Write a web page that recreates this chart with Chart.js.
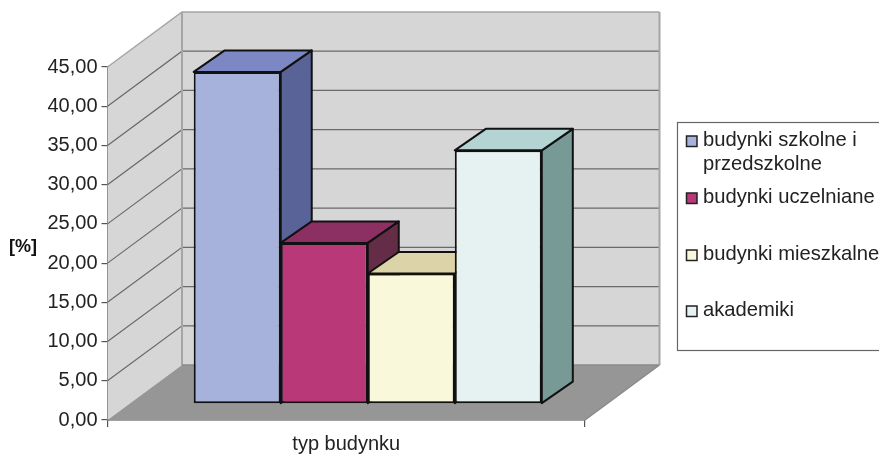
<!DOCTYPE html>
<html>
<head>
<meta charset="utf-8">
<style>
html, body { margin: 0; padding: 0; background: #fff; overflow: hidden; }
canvas { display: block; }
</style>
<script src="https://cdn.jsdelivr.net/npm/chart.js@4"></script>
</head>
<body>
<canvas id="myChart" width="879" height="454"></canvas>
<script>
const categories = ['typ budynku'];
const seriesNames = ['budynki szkolne i przedszkolne', 'budynki uczelniane', 'budynki mieszkalne', 'akademiki'];
const szkolne = [42.3];
const uczelniane = [20.5];
const mieszkalne = [16.6];
const akademiki = [32.3];
const frontColors = ['#a6b2dc', '#b83878', '#faf8da', '#e6f2f2'];
const topColors = ['#7c88c4', '#8c2f62', '#dcd4a8', '#b3d4d2'];
const sideColors = ['#5a6398', '#652c47', '#a8a486', '#789a96'];

const FONT = '"Liberation Sans", Arial, sans-serif';
const WALL_DX = 74.5, WALL_DY = -55;   // depth of the whole plot box
const BAR_DX = 31, BAR_DY = -21.5;     // depth of a bar
const SHIFT_X = 21.5, SHIFT_Y = -16.25; // bars stand in the middle of the floor

function poly(ctx, pts, fill, stroke, lw) {
    ctx.beginPath();
    pts.forEach((p, i) => i ? ctx.lineTo(p[0], p[1]) : ctx.moveTo(p[0], p[1]));
    ctx.closePath();
    if (fill) { ctx.fillStyle = fill; ctx.fill(); }
    if (stroke) { ctx.strokeStyle = stroke; ctx.lineWidth = lw; ctx.stroke(); }
}

const box3d = {
    id: 'box3d',
    beforeDatasetsDraw(chart) {
        const ctx = chart.ctx;
        const a = chart.chartArea;
        const y = chart.scales.y;
        const l = a.left, r = a.right, t = a.top, b = a.bottom;
        const bl = l + WALL_DX, br = r + WALL_DX, dy = WALL_DY;

        // walls and floor
        poly(ctx, [[l, b], [l, t], [bl, t + dy], [bl, b + dy]], '#d6d6d6', null);
        poly(ctx, [[bl, b + dy], [bl, t + dy], [br, t + dy], [br, b + dy]], '#d6d6d6', null);
        poly(ctx, [[l, b], [bl, b + dy], [br, b + dy], [r, b]], '#969696', null);

        // grid lines from the scale
        y.ticks.forEach(tick => {
            const py = y.getPixelForValue(tick.value);
            if (tick.value === 0) return;
            ctx.beginPath();
            ctx.moveTo(l, py);
            ctx.lineTo(bl, py + dy);
            ctx.lineTo(br, py + dy);
            ctx.strokeStyle = tick.value === 45 ? '#a5a5a5' : '#6a6a6a';
            ctx.lineWidth = tick.value === 45 ? 1.5 : 1.2;
            ctx.stroke();
        });
        ctx.strokeStyle = '#a5a5a5';
        ctx.lineWidth = 2;
        ctx.beginPath();
        ctx.moveTo(bl, t + dy); ctx.lineTo(bl, b + dy);
        ctx.moveTo(br, t + dy); ctx.lineTo(br, b + dy);
        ctx.stroke();
        ctx.lineWidth = 1.5;
        ctx.strokeStyle = '#8a8a8a';
        ctx.beginPath();
        ctx.moveTo(bl, b + dy); ctx.lineTo(br, b + dy);
        ctx.moveTo(br, b + dy); ctx.lineTo(r, b);
        ctx.stroke();

        // tops and sides of the bars, left to right
        ctx.save();
        ctx.translate(SHIFT_X, SHIFT_Y);
        ctx.lineJoin = 'round';
        chart.data.datasets.forEach((ds, i) => {
            const bar = chart.getDatasetMeta(i).data[0];
            const x0 = bar.x - bar.width / 2, x1 = bar.x + bar.width / 2;
            poly(ctx, [[x1, bar.y], [x1 + BAR_DX, bar.y + BAR_DY], [x1 + BAR_DX, bar.base + BAR_DY], [x1, bar.base]], sideColors[i], '#111', 2);
            poly(ctx, [[x0, bar.y], [x0 + BAR_DX, bar.y + BAR_DY], [x1 + BAR_DX, bar.y + BAR_DY], [x1, bar.y]], topColors[i], '#111', 2);
        });
        // front faces are drawn by the library in the same shifted place
    },
    afterDatasetsDraw(chart) {
        chart.ctx.restore();
    },
    afterDraw(chart) {
        const ctx = chart.ctx;
        ctx.save();

        // y axis title, horizontal
        ctx.fillStyle = '#111';
        ctx.font = 'bold 18px ' + FONT;
        ctx.textAlign = 'center';
        ctx.textBaseline = 'middle';
        ctx.fillText('[%]', 23, 247);

        // legend box runs off the right edge
        ctx.fillStyle = '#fff';
        ctx.strokeStyle = '#666';
        ctx.lineWidth = 1.2;
        ctx.fillRect(677.5, 122.5, 220, 228);
        ctx.strokeRect(677.5, 122.5, 220, 228);

        const rows = [
            { lines: ['budynki szkolne i', 'przedszkolne'], y: 141 },
            { lines: [seriesNames[1]], y: 198 },
            { lines: [seriesNames[2]], y: 255 },
            { lines: [seriesNames[3]], y: 311 }
        ];
        ctx.font = '20.2px ' + FONT;
        ctx.textAlign = 'left';
        rows.forEach((row, i) => {
            ctx.fillStyle = frontColors[i];
            ctx.strokeStyle = '#222';
            ctx.lineWidth = 1.5;
            ctx.fillRect(686.5, row.y - 5, 10.5, 10.5);
            ctx.strokeRect(686.5, row.y - 5, 10.5, 10.5);
            ctx.fillStyle = '#222';
            row.lines.forEach((s, k) => ctx.fillText(s, 703, row.y - 1 + k * 24));
        });
        ctx.restore();
    }
};

const ctx = document.getElementById('myChart').getContext('2d');
const myChart = new Chart(ctx, {
    type: 'bar',
    data: {
        labels: categories,
        datasets: [szkolne, uczelniane, mieszkalne, akademiki].map((values, i) => ({
            label: seriesNames[i],
            data: values,
            backgroundColor: frontColors[i],
            borderColor: '#111',
            borderWidth: 2,
            borderSkipped: false,
            clip: false
        }))
    },
    options: {
        responsive: false,
        animation: false,
        categoryPercentage: 0.729,
        barPercentage: 1,
        layout: { padding: { top: 67, right: 294, left: 0, bottom: 0 } },
        plugins: { legend: { display: false }, tooltip: { enabled: false } },
        scales: {
            x: {
                afterFit(scale) { scale.height = 34; },
                grid: { drawOnChartArea: false, color: '#555', tickLength: 7, lineWidth: 1.2 },
                border: { color: '#444', width: 1.5 },
                ticks: { color: '#222', font: { family: FONT, size: 20 }, padding: 5, maxRotation: 0 }
            },
            y: {
                min: 0,
                max: 45,
                afterFit(scale) { scale.width = 107.5; },
                grid: { drawOnChartArea: false, color: '#555', tickLength: 6, lineWidth: 1.2 },
                border: { color: '#555', width: 1.5 },
                ticks: {
                    stepSize: 5,
                    color: '#222',
                    padding: 4,
                    font: { family: FONT, size: 20 },
                    callback: v => v.toFixed(2).replace('.', ',')
                }
            }
        }
    },
    plugins: [box3d]
});
</script>
</body>
</html>
